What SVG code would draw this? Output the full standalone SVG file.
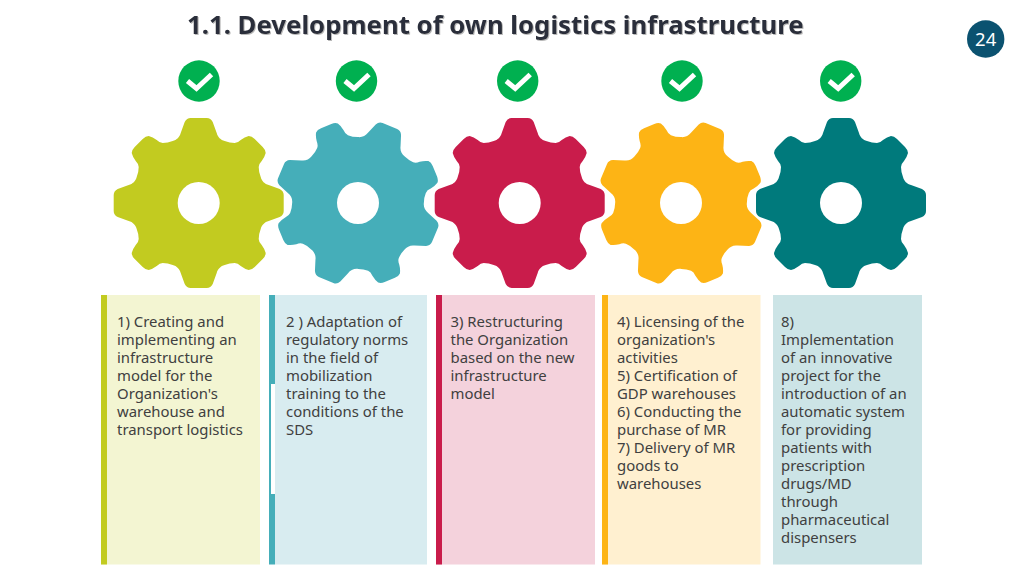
<svg xmlns="http://www.w3.org/2000/svg" width="1024" height="576" viewBox="0 0 1024 576">
<style>
text{font-family:"Noto Sans","Open Sans",sans-serif}
.t{font-size:14.9px;fill:#404040}
.title{font-size:25.75px;font-weight:700;fill:#2b2f3a}
.num{font-size:18.5px;fill:#fff}
.chk{fill:none;stroke:#fff;stroke-width:5}
</style>
<defs>
<filter id="sh" x="-2%" y="-20%" width="104%" height="140%"><feDropShadow dx="1" dy="1" stdDeviation="0.6" flood-color="#8a8a8a" flood-opacity="0.6"/></filter>
<path id="g" d="M0,-85 L8,-85 Q12,-85 14,-81 L18,-70 C19,-66 22,-63 26,-62 Q31,-60 36,-60 Q39,-60 42,-63 Q46,-66 50,-67 Q53,-67 56,-64 L64,-56 Q67,-53 67,-50 Q66,-46 63,-42 Q60,-39 60,-36 Q60,-31 62,-26 C63,-22 66,-19 70,-18 L81,-14 Q85,-12 85,-8 L85,8 Q85,12 81,14 L70,18 C66,19 63,22 62,26 Q60,31 60,36 Q60,39 63,42 Q66,46 67,50 Q67,53 64,56 L56,64 Q53,67 50,67 Q46,66 42,63 Q39,60 36,60 Q31,60 26,62 C22,63 19,66 18,70 L14,81 Q12,85 8,85 L-8,85 Q-12,85 -14,81 L-18,70 C-19,66 -22,63 -26,62 Q-31,60 -36,60 Q-39,60 -42,63 Q-46,66 -50,67 Q-53,67 -56,64 L-64,56 Q-67,53 -67,50 Q-66,46 -63,42 Q-60,39 -60,36 Q-60,31 -62,26 C-63,22 -66,19 -70,18 L-81,14 Q-85,12 -85,8 L-85,-8 Q-85,-12 -81,-14 L-70,-18 C-66,-19 -63,-22 -62,-26 Q-60,-31 -60,-36 Q-60,-39 -63,-42 Q-66,-46 -67,-50 Q-67,-53 -64,-56 L-56,-64 Q-53,-67 -50,-67 Q-46,-66 -42,-63 Q-39,-60 -36,-60 Q-31,-60 -26,-62 C-22,-63 -19,-66 -18,-70 L-14,-81 Q-12,-85 -8,-85 Z"/>
<g id="gear"><use href="#g"/><circle r="21" fill="#fff"/></g>
<g id="gearB"><use href="#g" transform="rotate(22.500) scale(0.98)"/><circle r="21" fill="#fff"/></g>
<g id="check"><circle r="20.700" fill="#00b050"/><path class="chk" d="M-11.500,0 L-2.500,7.500 L12.500,-6.500"/></g>
</defs>
<rect width="1024" height="576" fill="#fff"/>
<g id="title"><text class="title" x="187" y="34" filter="url(#sh)">1.1. Development of own logistics infrastructure</text></g>
<g id="page"><circle cx="985.700" cy="39" r="18.700" fill="#0b5270"/><text class="num" x="985.700" y="45.500" text-anchor="middle">24</text></g>
<g id="step1"><use href="#check" x="199" y="81"/><use href="#gear" transform="translate(198.700 203)" fill="#c2cb20"/>
<rect x="101" y="295" width="159" height="269.500" fill="#f3f5d2"/><rect x="101" y="295" width="6" height="269.500" fill="#c2cb20"/>
<text class="t" x="117" y="327"><tspan x="117">1) Creating and</tspan><tspan x="117" dy="18">implementing an</tspan><tspan x="117" dy="18">infrastructure</tspan><tspan x="117" dy="18">model for the</tspan><tspan x="117" dy="18">Organization's</tspan><tspan x="117" dy="18">warehouse and</tspan><tspan x="117" dy="18">transport logistics</tspan></text></g>
<g id="step2"><use href="#check" x="356.500" y="81"/><use href="#gearB" transform="translate(358 203)" fill="#45aeb9"/>
<rect x="275" y="295" width="152" height="269.500" fill="#d8ecf0"/><rect x="269" y="295" width="6" height="269.500" fill="#45aeb9"/><rect x="271" y="384" width="4" height="110" fill="#fff"/>
<text class="t" x="286" y="327"><tspan x="286">2 ) Adaptation of</tspan><tspan x="286" dy="18">regulatory norms</tspan><tspan x="286" dy="18">in the field of</tspan><tspan x="286" dy="18">mobilization</tspan><tspan x="286" dy="18">training to the</tspan><tspan x="286" dy="18">conditions of the</tspan><tspan x="286" dy="18">SDS</tspan></text></g>
<g id="step3"><use href="#check" x="517.700" y="81"/><use href="#gear" transform="translate(519.700 203)" fill="#c91c4b"/>
<rect x="436" y="295" width="159" height="269.500" fill="#f4d2dc"/><rect x="436" y="295" width="6" height="269.500" fill="#c91c4b"/>
<text class="t" x="450.500" y="327"><tspan x="450.500">3) Restructuring</tspan><tspan x="450.500" dy="18">the Organization</tspan><tspan x="450.500" dy="18">based on the new</tspan><tspan x="450.500" dy="18">infrastructure</tspan><tspan x="450.500" dy="18">model</tspan></text></g>
<g id="step4"><use href="#check" x="682" y="81"/><use href="#gearB" transform="translate(681 203)" fill="#fdb415"/>
<rect x="602" y="295" width="158.500" height="269.500" fill="#fff0d0"/><rect x="602" y="295" width="6" height="269.500" fill="#fdb415"/>
<text class="t" x="617" y="327"><tspan x="617">4) Licensing of the</tspan><tspan x="617" dy="18">organization's</tspan><tspan x="617" dy="18">activities</tspan><tspan x="617" dy="18">5) Certification of</tspan><tspan x="617" dy="18">GDP warehouses</tspan><tspan x="617" dy="18">6) Conducting the</tspan><tspan x="617" dy="18">purchase of MR</tspan><tspan x="617" dy="18">7) Delivery of MR</tspan><tspan x="617" dy="18">goods to</tspan><tspan x="617" dy="18">warehouses</tspan></text></g>
<g id="step5"><use href="#check" x="840.700" y="81"/><use href="#gear" transform="translate(841 203)" fill="#007a7c"/>
<rect x="773" y="295" width="149" height="269.500" fill="#cce4e6"/>
<text class="t" x="781" y="327"><tspan x="781">8)</tspan><tspan x="781" dy="18">Implementation</tspan><tspan x="781" dy="18">of an innovative</tspan><tspan x="781" dy="18">project for the</tspan><tspan x="781" dy="18">introduction of an</tspan><tspan x="781" dy="18">automatic system</tspan><tspan x="781" dy="18">for providing</tspan><tspan x="781" dy="18">patients with</tspan><tspan x="781" dy="18">prescription</tspan><tspan x="781" dy="18">drugs/MD</tspan><tspan x="781" dy="18">through</tspan><tspan x="781" dy="18">pharmaceutical</tspan><tspan x="781" dy="18">dispensers</tspan></text></g>
<g id="connectors"></g>
</svg>
